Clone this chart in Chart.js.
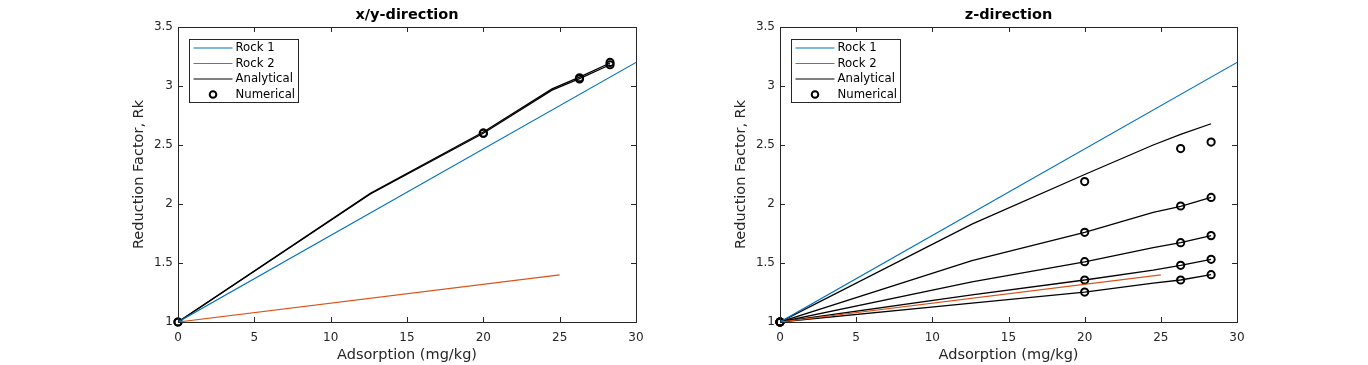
<!DOCTYPE html>
<html>
<head>
<meta charset="utf-8">
<script src="https://cdn.jsdelivr.net/npm/chart.js@4"></script>
<style>
  body { margin: 0; background: #fff; }
  .wrap { position: absolute; top: 0; width: 684px; height: 365px; }
</style>
</head>
<body>
<div class="wrap" style="left:0"><canvas id="xyChart"></canvas></div>
<div class="wrap" style="left:684px"><canvas id="zChart"></canvas></div>
<script>
// rock reference lines (same in both panels)
const rock1X = [0, 30];
const rock1Y = [1, 3.2];
const rock2X = [0, 25];
const rock2Y = [1, 1.4];

// x/y-direction: analytical curves (nearly on top of each other)
const anaX = [0, 12.6, 20, 24.5, 26.3, 28.3];
const xyAnalytical = [
    [1, 2.09, 2.61, 2.975, 3.076, 3.195],
    [1, 2.085, 2.6, 2.965, 3.062, 3.18]
];
const numX = [0, 20, 26.3, 28.3];
const xyNumerical = [
    [1, 2.6, 3.07, 3.2],
    [1, 2.6, 3.06, 3.18]
];

// z-direction
const zAnalytical = [
    [1, 1.83, 2.25, 2.5, 2.59, 2.68],
    [1, 1.52, 1.76, 1.93, 1.98, 2.056],
    [1, 1.34, 1.51, 1.63, 1.672, 1.732],
    [1, 1.23, 1.356, 1.44, 1.48, 1.531],
    [1, 1.16, 1.254, 1.33, 1.356, 1.401]
];
const zNumerical = [
    [1, 2.19, 2.47, 2.525],
    [1, 1.76, 1.983, 2.056],
    [1, 1.511, 1.672, 1.732],
    [1, 1.356, 1.48, 1.531],
    [1, 1.254, 1.356, 1.401]
];

const xTicks = [0, 5, 10, 15, 20, 25, 30];
const yTicks = [1, 1.5, 2, 2.5, 3, 3.5];

const BLUE = '#0072BD';
const ORANGE = '#D95319';
const AXIS = '#262626';
const FONT = 'DejaVu Sans';

function pts(xs, ys) {
    return xs.map((x, i) => ({ x: x, y: ys[i] }));
}

function buildDatasets(analytical, numerical) {
    const ds = [
        { label: 'Rock 1', data: pts(rock1X, rock1Y), showLine: true, borderColor: BLUE, borderWidth: 1.2, pointRadius: 0 },
        { label: 'Rock 2', data: pts(rock2X, rock2Y), showLine: true, borderColor: ORANGE, borderWidth: 1.2, pointRadius: 0 }
    ];
    analytical.forEach(ys => {
        ds.push({ label: 'Analytical', data: pts(anaX, ys), showLine: true, borderColor: '#000', borderWidth: 1.3, pointRadius: 0 });
    });
    numerical.forEach(ys => {
        ds.push({
            label: 'Numerical', data: pts(numX, ys), showLine: false, clip: false,
            pointStyle: 'circle', pointRadius: 3.6, borderColor: '#000', borderWidth: 2,
            backgroundColor: 'rgba(0,0,0,0)'
        });
    });
    return ds;
}

// matlab style box with inward ticks
const boxPlugin = {
    id: 'matBox',
    afterDraw(chart) {
        const { ctx, chartArea: a, scales } = chart;
        ctx.save();
        ctx.strokeStyle = AXIS;
        ctx.lineWidth = 1;
        ctx.strokeRect(Math.round(a.left) + 0.5, Math.round(a.top) + 0.5, Math.round(a.right - a.left), Math.round(a.bottom - a.top));
        const tl = 5;
        ctx.beginPath();
        xTicks.forEach(v => {
            const px = Math.round(scales.x.getPixelForValue(v)) + 0.5;
            ctx.moveTo(px, a.bottom); ctx.lineTo(px, a.bottom - tl);
            ctx.moveTo(px, a.top); ctx.lineTo(px, a.top + tl);
        });
        yTicks.forEach(v => {
            const py = Math.round(scales.y.getPixelForValue(v)) + 0.5;
            ctx.moveTo(a.left, py); ctx.lineTo(a.left + tl, py);
            ctx.moveTo(a.right, py); ctx.lineTo(a.right - tl, py);
        });
        ctx.stroke();
        ctx.restore();
    }
};

// legend box in upper left corner
const legendPlugin = {
    id: 'matLegend',
    afterDraw(chart) {
        const { ctx, chartArea: a } = chart;
        const seen = {};
        const items = chart.data.datasets.filter(d => {
            if (seen[d.label]) return false;
            seen[d.label] = true;
            return true;
        });
        const bx = Math.round(a.left) + 11.5;
        const by = Math.round(a.top) + 12.5;
        const bw = 109, bh = 63;
        ctx.save();
        ctx.fillStyle = '#fff';
        ctx.fillRect(bx, by, bw, bh);
        ctx.strokeStyle = AXIS;
        ctx.lineWidth = 1;
        ctx.strokeRect(bx, by, bw, bh);
        ctx.font = '11.7px "' + FONT + '"';
        ctx.textBaseline = 'middle';
        items.forEach((d, i) => {
            const cy = by + 8.5 + i * 15.5;
            if (d.showLine) {
                ctx.strokeStyle = d.borderColor;
                ctx.lineWidth = 1.2;
                ctx.beginPath();
                ctx.moveTo(bx + 4, cy);
                ctx.lineTo(bx + 43, cy);
                ctx.stroke();
            } else {
                ctx.strokeStyle = d.borderColor;
                ctx.lineWidth = 2;
                ctx.beginPath();
                ctx.arc(bx + 23.5, cy, 3.3, 0, Math.PI * 2);
                ctx.stroke();
            }
            ctx.fillStyle = '#000';
            ctx.fillText(d.label, bx + 46, cy);
        });
        ctx.restore();
    }
};

function makeChart(id, title, analytical, numerical, padLeft, padRight) {
    const ctx = document.getElementById(id).getContext('2d');
    return new Chart(ctx, {
        type: 'scatter',
        data: { datasets: buildDatasets(analytical, numerical) },
        options: {
            responsive: true,
            maintainAspectRatio: false,
            animation: false,
            layout: { padding: { left: padLeft, right: padRight, top: 0, bottom: 0 } },
            elements: { line: { tension: 0 } },
            plugins: {
                legend: { display: false },
                tooltip: { enabled: false },
                title: {
                    display: true,
                    text: title,
                    fullSize: false,
                    color: '#000',
                    font: { family: FONT, size: 14.5, weight: 'bold', lineHeight: 1 },
                    padding: { top: 8, bottom: 4.5 }
                }
            },
            scales: {
                x: {
                    type: 'linear',
                    min: 0,
                    max: 30,
                    afterBuildTicks: s => { s.ticks = xTicks.map(v => ({ value: v })); },
                    afterFit: s => { s.height = 43; },
                    grid: { display: false, drawTicks: false },
                    border: { display: false },
                    ticks: { color: AXIS, padding: 9, maxRotation: 0, font: { family: FONT, size: 12 }, callback: v => String(v) },
                    title: { display: true, text: 'Adsorption (mg/kg)', color: AXIS, font: { family: FONT, size: 14.5 }, padding: { top: 0, bottom: 1 } }
                },
                y: {
                    type: 'linear',
                    min: 1,
                    max: 3.5,
                    afterBuildTicks: s => { s.ticks = yTicks.map(v => ({ value: v })); },
                    afterFit: s => { s.width = 50; },
                    grid: { display: false, drawTicks: false },
                    border: { display: false },
                    ticks: { color: AXIS, padding: 5, font: { family: FONT, size: 12 }, callback: v => String(v) },
                    title: { display: true, text: 'Reduction Factor, Rk', color: AXIS, font: { family: FONT, size: 14.5 }, padding: { top: 3, bottom: 0 } }
                }
            }
        },
        plugins: [boxPlugin, legendPlugin]
    });
}

makeChart('xyChart', 'x/y-direction', xyAnalytical, xyNumerical, 128, 48);
makeChart('zChart', 'z-direction', zAnalytical, zNumerical, 46, 131);
</script>
</body>
</html>
